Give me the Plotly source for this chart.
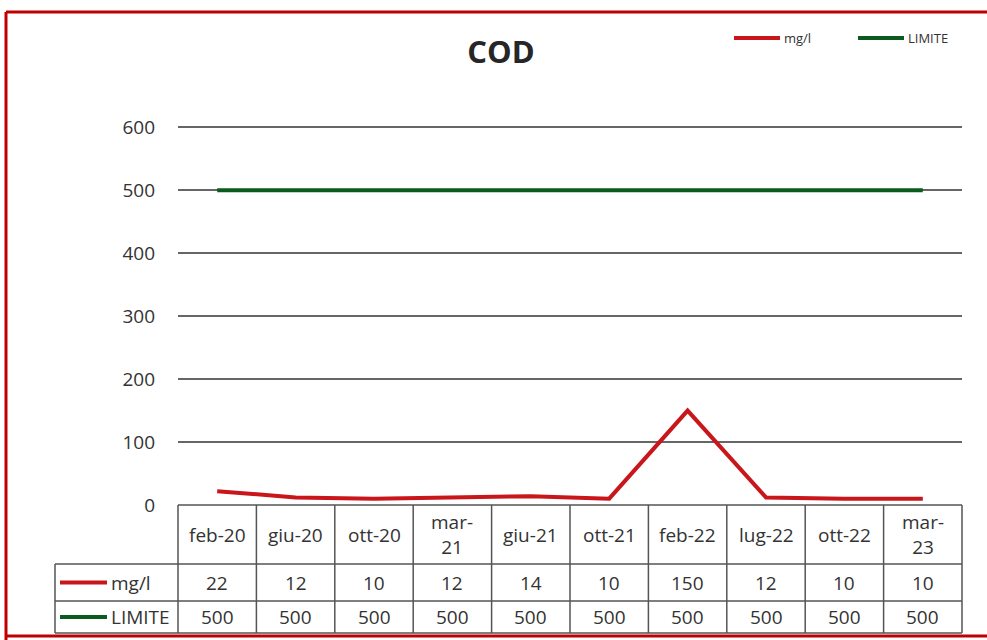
import plotly.graph_objects as go

# Sampling dates (header of the data table) and measured values
categories = ["feb-20", "giu-20", "ott-20", "mar-21", "giu-21",
              "ott-21", "feb-22", "lug-22", "ott-22", "mar-23"]
header_labels = ["feb-20", "giu-20", "ott-20", "mar-<br>21", "giu-21",
                 "ott-21", "feb-22", "lug-22", "ott-22", "mar-<br>23"]
cod_mgl = [22, 12, 10, 12, 14, 10, 150, 12, 10, 10]
limite = [500, 500, 500, 500, 500, 500, 500, 500, 500, 500]
series_names = ["mg/l", "LIMITE"]

y_ticks = [0, 100, 200, 300, 400, 500, 600]

RED = "#c8161b"
GREEN = "#0b5a1e"
GRID = "#666666"
TABLE = "#555555"
TEXT = "#333333"
FONT = "Open Sans"

W, H = 987, 640
L, R, T, B = 178, 25, 126, 135
PW, PH = W - L - R, H - T - B


def fx(px):
    """Pixel x -> paper x."""
    return (px - L) / PW


def fy(py):
    """Pixel y -> paper y."""
    return (H - B - py) / PH


fig = go.Figure()
fig.add_trace(go.Scatter(x=categories, y=limite, mode="lines", name=series_names[1],
                         line=dict(color=GREEN, width=4), showlegend=False))
fig.add_trace(go.Scatter(x=categories, y=cod_mgl, mode="lines", name=series_names[0],
                         line=dict(color=RED, width=4), showlegend=False))

shapes = []
annotations = []

# Chart frame
for x0, y0, x1, y1 in [(6, 12, W + 5, 12), (6, 12, 6, H + 5), (6, 636, W + 5, 636)]:
    shapes.append(dict(type="line", xref="paper", yref="paper",
                       x0=fx(x0), y0=fy(y0), x1=fx(x1), y1=fy(y1),
                       line=dict(color="#c00000", width=3)))

# Data table geometry
n = len(categories)
row_y = [505, 564, 601, 633]
col_left = 55
shapes.append(dict(type="line", xref="paper", yref="paper", x0=0, x1=1,
                   y0=fy(row_y[0]), y1=fy(row_y[0]), line=dict(color=TABLE, width=1.5)))
for yy in row_y[1:]:
    shapes.append(dict(type="line", xref="paper", yref="paper", x0=fx(col_left), x1=1,
                       y0=fy(yy), y1=fy(yy), line=dict(color=TABLE, width=1.5)))
shapes.append(dict(type="line", xref="paper", yref="paper", x0=fx(col_left), x1=fx(col_left),
                   y0=fy(row_y[1]), y1=fy(row_y[3]), line=dict(color=TABLE, width=1.5)))
for i in range(n + 1):
    shapes.append(dict(type="line", xref="paper", yref="paper", x0=i / n, x1=i / n,
                       y0=fy(row_y[0]), y1=fy(row_y[3]), line=dict(color=TABLE, width=1.5)))

cell_font = dict(family=FONT, size=19, color=TEXT)
for i in range(n):
    xc = (i + 0.5) / n
    annotations.append(dict(text=header_labels[i], x=xc, y=fy((row_y[0] + row_y[1]) / 2),
                            xref="paper", yref="paper", showarrow=False, font=cell_font,
                            xanchor="center", yanchor="middle"))
    annotations.append(dict(text=str(cod_mgl[i]), x=xc, y=fy((row_y[1] + row_y[2]) / 2),
                            xref="paper", yref="paper", showarrow=False, font=cell_font,
                            xanchor="center", yanchor="middle"))
    annotations.append(dict(text=str(limite[i]), x=xc, y=fy((row_y[2] + row_y[3]) / 2),
                            xref="paper", yref="paper", showarrow=False, font=cell_font,
                            xanchor="center", yanchor="middle"))

# Series keys in the table's first column
for k, (name, col) in enumerate(zip(series_names, [RED, GREEN])):
    yc = (row_y[1 + k] + row_y[2 + k]) / 2
    shapes.append(dict(type="line", xref="paper", yref="paper", x0=fx(60), x1=fx(107),
                       y0=fy(yc), y1=fy(yc), line=dict(color=col, width=4)))
    annotations.append(dict(text=name, x=fx(109), y=fy(yc), xref="paper", yref="paper",
                            showarrow=False, font=cell_font, xanchor="left", yanchor="middle"))

# Legend at the top right
for name, col, x0, x1 in [(series_names[0], RED, 734, 780), (series_names[1], GREEN, 858, 904)]:
    shapes.append(dict(type="line", xref="paper", yref="paper", x0=fx(x0), x1=fx(x1),
                       y0=fy(38), y1=fy(38), line=dict(color=col, width=4)))
    annotations.append(dict(text=name, x=fx(x1 + 2), y=fy(38), xref="paper", yref="paper",
                            showarrow=False, font=dict(family=FONT, size=13, color=TEXT),
                            xanchor="left", yanchor="middle"))

fig.update_layout(
    width=W, height=H,
    margin=dict(l=L, r=R, t=T, b=B),
    paper_bgcolor="white", plot_bgcolor="white",
    title=dict(text="<b>COD</b>", xref="container", x=501 / W, xanchor="center",
               yref="container", y=1 - 52 / H, yanchor="middle",
               font=dict(family=FONT, size=31, color="#262626")),
    shapes=shapes, annotations=annotations,
    showlegend=False,
    xaxis=dict(type="category", range=[-0.5, n - 0.5], showticklabels=False,
               showgrid=False, zeroline=False, showline=False, ticks=""),
    yaxis=dict(range=[0, 602], tickvals=y_ticks, showgrid=True, gridcolor=GRID, gridwidth=1.5,
               zeroline=False, showline=False, ticks="", ticklabelstandoff=22,
               tickfont=dict(family=FONT, size=19, color=TEXT)),
)

fig.write_html("out.html")
